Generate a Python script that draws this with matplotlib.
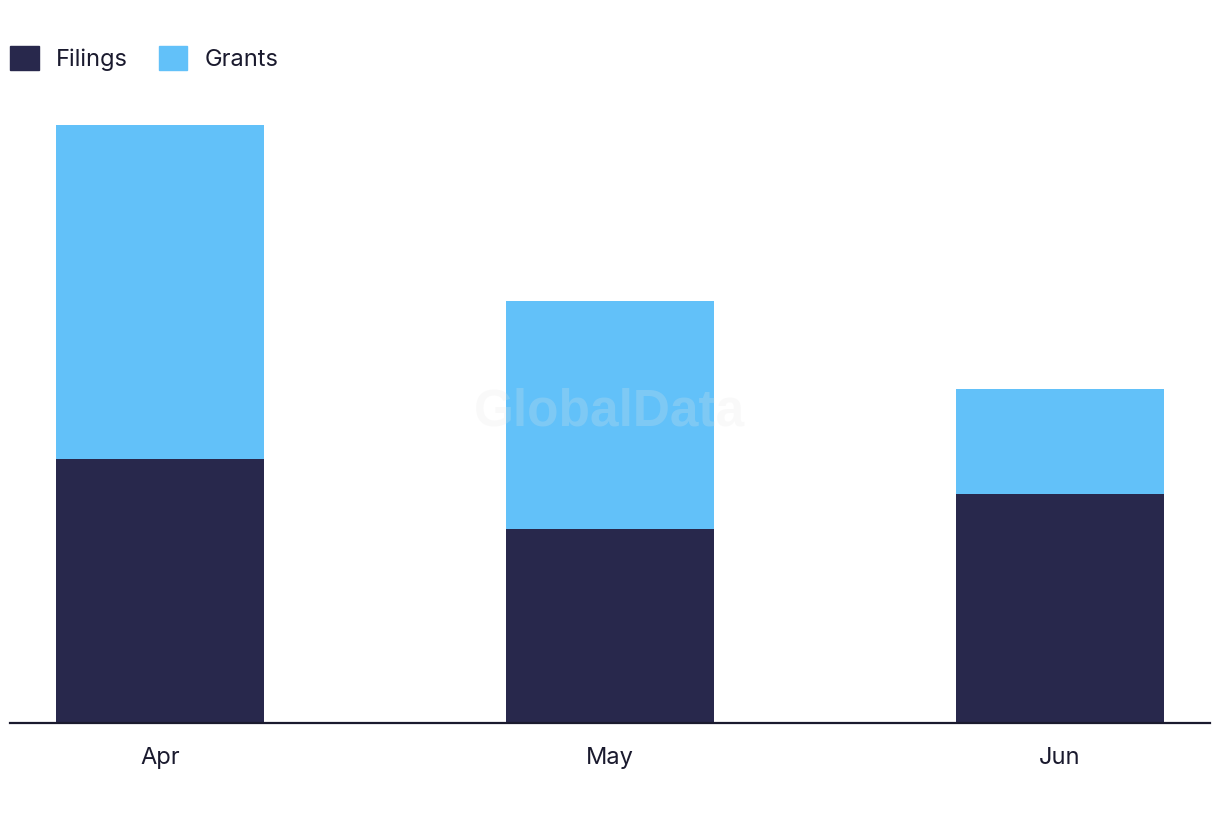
import matplotlib.pyplot as plt
from matplotlib.patches import Patch

months = ['Apr', 'May', 'Jun']
filings = [15, 11, 13]
grants = [19, 13, 6]

FILINGS_COLOR = '#28284C'
GRANTS_COLOR = '#62C1F9'
TEXT_COLOR = '#1A1A2E'

plt.rcParams['font.family'] = ['Inter', 'DejaVu Sans']

fig = plt.figure(figsize=(12.2, 8.22), dpi=100)
ax = fig.add_axes([10 / 1220, 1 - 723 / 822, 1200 / 1220, 623 / 822])

x = list(range(len(months)))
ax.bar(x, filings, width=0.462, color=FILINGS_COLOR, label='Filings')
ax.bar(x, grants, width=0.462, bottom=filings, color=GRANTS_COLOR, label='Grants')

ax.set_xlim(-0.333, 2.333)
ax.set_ylim(0, 35.4)
ax.set_xticks(x)
ax.set_xticklabels(months, fontsize=17, color=TEXT_COLOR)
ax.tick_params(axis='x', length=0, pad=17)
ax.set_yticks([])
for side in ['top', 'right', 'left']:
    ax.spines[side].set_visible(False)
ax.spines['bottom'].set_color(TEXT_COLOR)
ax.spines['bottom'].set_linewidth(1.6)

# watermark
fig.text(0.5, 1 - 412 / 822, 'GlobalData', ha='center', va='center', fontsize=37,
         fontweight='bold', color='#E6E6E6', alpha=0.22, family='Liberation Sans')

handles = [Patch(color=FILINGS_COLOR), Patch(color=GRANTS_COLOR)]
fig.legend(handles, ['Filings', 'Grants'], loc='upper left',
           bbox_to_anchor=(1 / 1220, 1 - 37 / 822), ncol=2, frameon=False,
           fontsize=17, handlelength=1.19, handleheight=1.19,
           handletextpad=0.72, columnspacing=1.35, borderaxespad=0,
           labelcolor=TEXT_COLOR)

plt.savefig('out.png', dpi=100)
